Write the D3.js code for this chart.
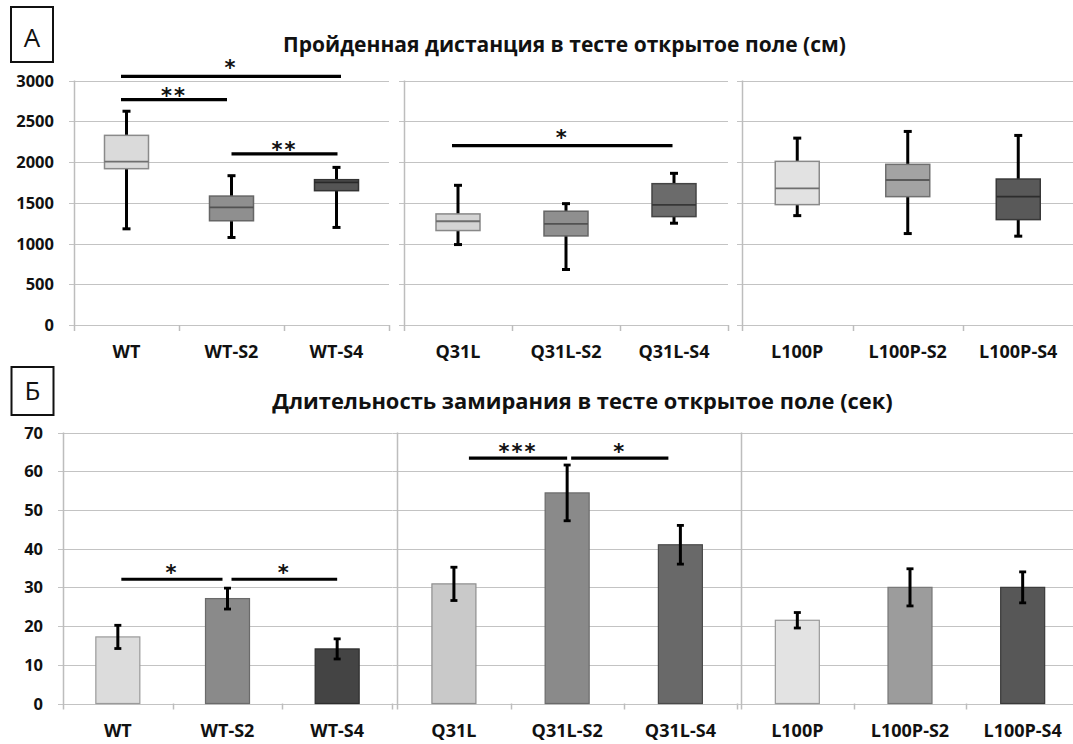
<!DOCTYPE html>
<html>
<head>
<meta charset="utf-8">
<script src="https://cdn.jsdelivr.net/npm/d3@7"></script>
<style>
  body { margin: 0; background: #fff; }
  svg { display: block; }
</style>
</head>
<body>
<svg id="chart" width="1073" height="744"></svg>
<script>
// ---------- data ----------
const categories = ["WT", "WT-S2", "WT-S4", "Q31L", "Q31L-S2", "Q31L-S4", "L100P", "L100P-S2", "L100P-S4"];

// Distance travelled in the open field (cm): box plot statistics
const distWhiskerLow  = [1180, 1074, 1197,  987,  681, 1249, 1342, 1122, 1090];
const distQ1          = [1918, 1279, 1648, 1159, 1093, 1330, 1477, 1575, 1293];
const distMedian      = [2004, 1443, 1750, 1273, 1240, 1473, 1677, 1779, 1575];
const distQ3          = [2327, 1582, 1783, 1363, 1396, 1734, 2008, 1971, 1791];
const distWhiskerHigh = [2623, 1832, 1934, 1714, 1489, 1861, 2293, 2375, 2326];
const distTicks = [0, 500, 1000, 1500, 2000, 2500, 3000];

// Freezing time in the open field (s): mean and error
const freezeMean = [17.2, 27.1, 14.1, 30.9, 54.4, 41.0, 21.5, 30.0, 30.0];
const freezeErr  = [3.0, 2.7, 2.6, 4.3, 7.2, 5.0, 2.0, 4.8, 4.0];
const freezeTicks = [0, 10, 20, 30, 40, 50, 60, 70];

// Significance brackets: [from, to, level, label]
const distSignif = [
  ["WT", "WT-S4", 3050, "*"],
  ["WT", "WT-S2", 2765, "**"],
  ["WT-S2", "WT-S4", 2100, "**"],
  ["Q31L", "Q31L-S4", 2200, "*"]
];
const freezeSignif = [
  ["WT", "WT-S2", 32.1, "*"],
  ["WT-S2", "WT-S4", 32.1, "*"],
  ["Q31L", "Q31L-S2", 63.4, "***"],
  ["Q31L-S2", "Q31L-S4", 63.4, "*"]
];

const titleA = "Пройденная дистанция в тесте открытое поле (см)";
const titleB = "Длительность замирания в тесте открытое поле (сек)";

// ---------- styling / layout ----------
const boxFill   = ["#dadada", "#8f8f8f", "#555555", "#d4d4d4", "#8f8f8f", "#6b6b6b", "#e2e2e2", "#a3a3a3", "#595959"];
const boxStroke = ["#8a8a8a", "#666666", "#333333", "#888888", "#666666", "#444444", "#8a8a8a", "#707070", "#383838"];
const barFill   = ["#dcdcdc", "#8a8a8a", "#444444", "#c9c9c9", "#8a8a8a", "#696969", "#e3e3e3", "#9c9c9c", "#575757"];
const barStroke = ["#9a9a9a", "#6a6a6a", "#2e2e2e", "#8e8e8e", "#6a6a6a", "#4a4a4a", "#9a9a9a", "#777777", "#3a3a3a"];

const FONT = "'Open Sans', 'DejaVu Sans', sans-serif";
const GRID = "#c3c3c3";
const AXIS = "#bdbdbd";

const svg = d3.select("#chart");

const groups = [categories.slice(0, 3), categories.slice(3, 6), categories.slice(6, 9)];

const topPanels = [[74, 389], [404, 728], [742, 1073.5]];
const botPanels = [[63, 392], [397.3, 737], [741, 1079]];

const yTop = d3.scaleLinear().domain([0, 3000]).range([325, 80.5]);
const yBot = d3.scaleLinear().domain([0, 70]).range([703.5, 432.5]);

function makeBands(panels) {
  return groups.map((g, i) => d3.scaleBand().domain(g).range(panels[i]).paddingInner(0).paddingOuter(0));
}
const xTop = makeBands(topPanels);
const xBot = makeBands(botPanels);

function bandOf(bands, cat) {
  return bands[groups.findIndex(g => g.includes(cat))];
}
function centerOf(bands, cat) {
  const b = bandOf(bands, cat);
  return b(cat) + b.bandwidth() / 2;
}

// Panel frame: gridlines, y axis line, x axis ticks, category labels
function drawFrame(bands, y, ticks, showLabels, xLabelY) {
  bands.forEach((x, pi) => {
    const [x0, x1] = x.range();
    const g = svg.append("g");
    // horizontal gridlines with small outer ticks on the y axis
    g.selectAll("line.grid").data(ticks).join("line")
      .attr("x1", x0 - 5).attr("x2", x1)
      .attr("y1", d => Math.round(y(d)) + 0.5).attr("y2", d => Math.round(y(d)) + 0.5)
      .attr("stroke", GRID).attr("stroke-width", 1.2);
    // y axis line
    g.append("line")
      .attr("x1", Math.round(x0) + 0.5).attr("x2", Math.round(x0) + 0.5)
      .attr("y1", y(ticks[ticks.length - 1])).attr("y2", y(0) + 6)
      .attr("stroke", AXIS).attr("stroke-width", 1.5);
    // x axis tick marks at category boundaries
    const bounds = x.domain().map(c => x(c)).slice(1).concat([x1]);
    g.selectAll("line.xt").data(bounds).join("line")
      .attr("x1", d => Math.round(d) + 0.5).attr("x2", d => Math.round(d) + 0.5)
      .attr("y1", y(0)).attr("y2", y(0) + 6)
      .attr("stroke", AXIS).attr("stroke-width", 1.5);
    // category labels
    g.selectAll("text.cat").data(x.domain()).join("text")
      .attr("x", d => x(d) + x.bandwidth() / 2)
      .attr("y", xLabelY)
      .attr("text-anchor", "middle")
      .attr("font-family", FONT).attr("font-weight", 700).attr("font-size", 18)
      .attr("fill", "#111")
      .text(d => d);
    // y tick labels only on the first panel
    if (pi === 0 && showLabels) {
      g.selectAll("text.yt").data(ticks).join("text")
        .attr("x", x0 - 20)
        .attr("y", d => y(d) + 6)
        .attr("text-anchor", "end")
        .attr("font-family", FONT).attr("font-weight", 700).attr("font-size", 16.5)
        .attr("fill", "#111")
        .text(d => d);
    }
  });
}

function drawSignif(bands, y, list, insets, starGap) {
  const g = svg.append("g");
  list.forEach(([from, to, level, label], i) => {
    const xa = centerOf(bands, from) + insets[i][0];
    const xb = centerOf(bands, to) + insets[i][1];
    const yy = y(level);
    g.append("line")
      .attr("x1", xa).attr("x2", xb).attr("y1", yy).attr("y2", yy)
      .attr("stroke", "#000").attr("stroke-width", 3.2);
    g.append("text")
      .attr("x", (xa + xb) / 2)
      .attr("y", yy + starGap[i])
      .attr("text-anchor", "middle")
      .attr("font-family", "'DejaVu Sans', sans-serif")
      .attr("font-weight", 700)
      .attr("font-size", 21)
      .attr("letter-spacing", 2)
      .attr("fill", "#111")
      .text(label);
  });
}

function panelTag(letter, x, y0, w, h, baseline) {
  svg.append("rect")
    .attr("x", x).attr("y", y0).attr("width", w).attr("height", h)
    .attr("fill", "none").attr("stroke", "#111").attr("stroke-width", 2);
  svg.append("text")
    .attr("x", x + w / 2).attr("y", baseline)
    .attr("text-anchor", "middle")
    .attr("font-family", FONT).attr("font-size", 26).attr("fill", "#111")
    .text(letter);
}

function fittedTitle(text, cx, baseline, width) {
  const t = svg.append("text")
    .attr("x", cx).attr("y", baseline)
    .attr("text-anchor", "middle")
    .attr("font-family", FONT).attr("font-weight", 700).attr("font-size", 20)
    .attr("fill", "#111")
    .text(text);
  const len = t.node().getComputedTextLength();
  t.attr("font-size", 20 * width / len);
}

// ---------- panel А: box plots ----------
panelTag("А", 11, 7, 42, 55, 47);
fittedTitle(titleA, 564.5, 52, 563);
drawFrame(xTop, yTop, distTicks, true, 358);

const boxW = 44;
const boxes = svg.append("g");
categories.forEach((c, i) => {
  const cx = centerOf(xTop, c);
  const g = boxes.append("g");
  // whisker stem
  g.append("line")
    .attr("x1", cx).attr("x2", cx)
    .attr("y1", yTop(distWhiskerLow[i])).attr("y2", yTop(distWhiskerHigh[i]))
    .attr("stroke", "#000").attr("stroke-width", 3);
  // whisker caps
  [distWhiskerLow[i], distWhiskerHigh[i]].forEach(v => {
    g.append("line")
      .attr("x1", cx - 4).attr("x2", cx + 4)
      .attr("y1", yTop(v)).attr("y2", yTop(v))
      .attr("stroke", "#000").attr("stroke-width", 3);
  });
  // box
  g.append("rect")
    .attr("x", cx - boxW / 2).attr("width", boxW)
    .attr("y", yTop(distQ3[i])).attr("height", yTop(distQ1[i]) - yTop(distQ3[i]))
    .attr("fill", boxFill[i]).attr("stroke", boxStroke[i]).attr("stroke-width", 1.5);
  // median
  g.append("line")
    .attr("x1", cx - boxW / 2).attr("x2", cx + boxW / 2)
    .attr("y1", yTop(distMedian[i])).attr("y2", yTop(distMedian[i]))
    .attr("stroke", d3.color(boxStroke[i]).darker(0.6)).attr("stroke-width", 1.8);
});

drawSignif(xTop, yTop, distSignif,
  [[-5.5, 4.5], [-5.5, -4.5], [0, 1], [-6, -1.5]],
  [-1, 3, 3, -1]);

// ---------- panel Б: bars with error bars ----------
panelTag("Б", 11.5, 367, 42, 48, 400);
fittedTitle(titleB, 582.5, 409, 621);
drawFrame(xBot, yBot, freezeTicks, true, 737);

const barW = 44;
const bars = svg.append("g");
categories.forEach((c, i) => {
  const cx = centerOf(xBot, c);
  const g = bars.append("g");
  g.append("rect")
    .attr("x", cx - barW / 2).attr("width", barW)
    .attr("y", yBot(freezeMean[i])).attr("height", yBot(0) - yBot(freezeMean[i]))
    .attr("fill", barFill[i]).attr("stroke", barStroke[i]).attr("stroke-width", 1.2);
  const lo = freezeMean[i] - freezeErr[i];
  const hi = freezeMean[i] + freezeErr[i];
  g.append("line")
    .attr("x1", cx).attr("x2", cx)
    .attr("y1", yBot(lo)).attr("y2", yBot(hi))
    .attr("stroke", "#000").attr("stroke-width", 3);
  [lo, hi].forEach(v => {
    g.append("line")
      .attr("x1", cx - 3.5).attr("x2", cx + 3.5)
      .attr("y1", yBot(v)).attr("y2", yBot(v))
      .attr("stroke", "#000").attr("stroke-width", 2.8);
  });
});

drawSignif(xBot, yBot, freezeSignif,
  [[3.5, -5], [4, 0], [15, 0], [4, -12]],
  [1, 1, 1, 1]);
</script>
</body>
</html>
